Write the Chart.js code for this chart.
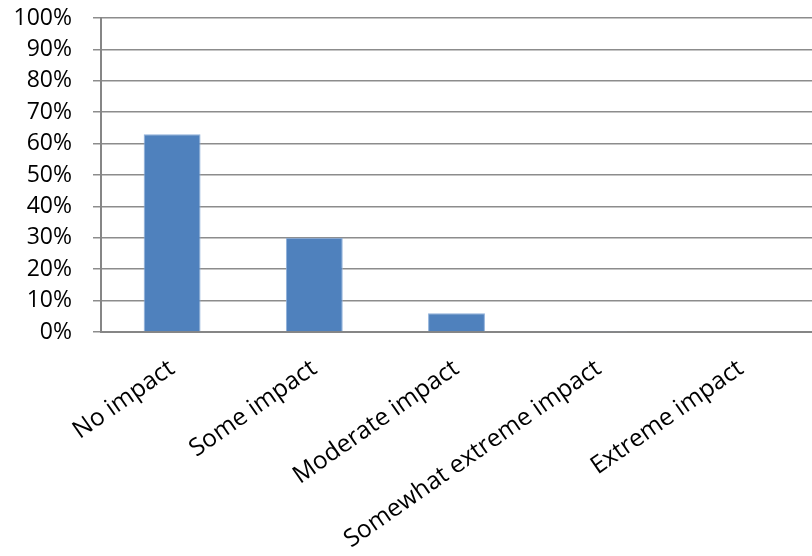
<!DOCTYPE html>
<html>
<head>
<meta charset="utf-8">
<script src="https://cdn.jsdelivr.net/npm/chart.js@4"></script>
<style>
  html, body { margin: 0; padding: 0; background: #fff; }
  #wrap { width: 812px; height: 556px; }
</style>
</head>
<body>
<div id="wrap"><canvas id="myChart" width="812" height="556"></canvas></div>
<script>
// impact categories and share of responses (%)
let kategoriak = ['No impact', 'Some impact', 'Moderate impact', 'Somewhat extreme impact', 'Extreme impact'];
let ertekek = [63, 30, 6, 0.3, 0];
let yTickek = [0, 10, 20, 30, 40, 50, 60, 70, 80, 90, 100];

var ctx = document.getElementById('myChart').getContext('2d');
var betu = "'Open Sans', sans-serif";

new Chart(ctx, {
    type: 'bar',
    data: {
        labels: kategoriak,
        datasets: [{
            data: ertekek,
            backgroundColor: '#4f81bd',
            borderColor: '#8fb0da',
            borderWidth: 1,
            categoryPercentage: 0.8,
            barPercentage: 0.5
        }]
    },
    options: {
        responsive: false,
        animation: false,
        layout: {
            padding: { left: 0, right: 0, top: 18, bottom: 0 }
        },
        scales: {
            x: {
                grid: { display: false, drawTicks: false },
                border: { color: '#868686', width: 2 },
                afterFit: function (s) { s.height = 224; s.paddingLeft = 0; s.paddingRight = 0; },
                ticks: {
                    color: '#000',
                    padding: 22,
                    minRotation: 35,
                    maxRotation: 35,
                    font: { family: betu, size: 24.5 }
                }
            },
            y: {
                min: 0,
                max: 100,
                afterFit: function (s) { s.width = 101; s.paddingTop = 0; s.paddingBottom = 0; },
                afterBuildTicks: function (s) {
                    s.ticks = yTickek.map(v => ({ value: v }));
                },
                grid: { color: '#8c8c8c', lineWidth: 1.5, tickLength: 8 },
                border: { color: '#868686', width: 2 },
                ticks: {
                    color: '#000',
                    padding: 21,
                    font: { family: betu, size: 23 },
                    callback: v => v + '%'
                }
            }
        },
        plugins: {
            legend: { display: false },
            tooltip: { enabled: false }
        }
    }
});
</script>
</body>
</html>
